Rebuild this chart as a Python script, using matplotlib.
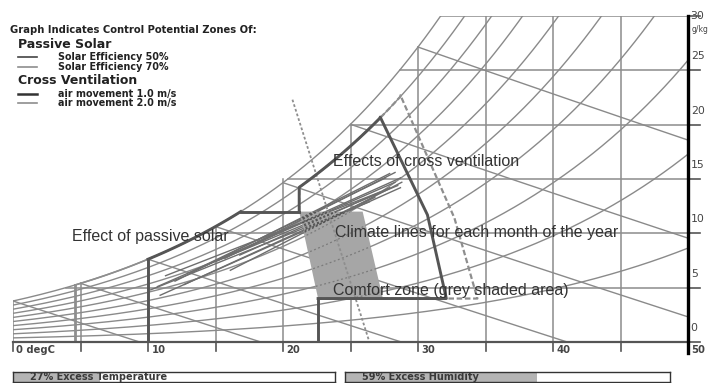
import numpy as np
import matplotlib
matplotlib.use("Agg")
import matplotlib.pyplot as plt
from matplotlib.patches import Polygon

# ---------------- chart data ----------------
temp_grid = [0, 5, 10, 15, 20, 25, 30, 35, 40, 45, 50]
temp_labels = {0: "0 degC", 10: "10", 20: "20", 30: "30", 40: "40", 50: "50"}
hum_grid = [0, 5, 10, 15, 20, 25, 30]
hum_labels = ["0", "5", "10", "15", "20", "25", "30"]
saturation_pct = [10, 20, 30, 40, 50, 60, 70, 80, 90, 100]
wet_bulb_temps = [0, 5, 10, 15, 20, 25, 30]

# comfort zone (temperature degC, humidity g/kg)
comfort_T = [21.2, 25.9, 27.4, 22.6]
comfort_W = [12.0, 12.0, 4.0, 4.0]

# passive solar zones: lower temperature limit
solar50_Tmin = 10.0
solar70_Tmin = 4.6

# cross ventilation zones: right-hand boundary points, upper edge follows 90% saturation
vent_pct = 0.9
vent1_T = [27.2, 30.7, 32.1]
vent1_W = [20.7, 11.7, 4.0]
vent2_T = [28.7, 32.7, 34.4]
vent2_W = [22.7, 11.4, 4.0]

# effective-temperature guide line
et_T = [20.7, 26.4]
et_W = [22.3, 0.0]

# monthly climate lines (min -> max)
months = ["Jan", "Feb", "Mar", "Apr", "May", "Jun", "Jul", "Aug", "Sep", "Oct", "Nov", "Dec"]
clim_T0 = [10.7, 10.9, 12.0, 13.1, 14.2, 15.0, 15.7, 16.1, 16.8, 11.3, 10.2, 12.7]
clim_W0 = [5.1, 4.3, 5.6, 6.4, 7.0, 7.4, 7.7, 6.6, 8.0, 6.1, 4.8, 5.3]
clim_T1 = [28.3, 28.7, 27.9, 27.6, 28.7, 28.5, 28.3, 28.8, 27.9, 27.2, 26.4, 26.8]
clim_W1 = [14.7, 14.2, 15.5, 15.1, 15.1, 14.4, 15.6, 14.7, 14.2, 13.8, 12.9, 13.3]

excess_temp = 27
excess_hum = 59

# ---------------- psychrometrics ----------------
def w_sat(T):
    T = np.asarray(T, dtype=float)
    p = 0.61094 * np.exp(17.625 * T / (T + 243.04))
    return 622.0 * p / (101.325 - p)

def w_wetbulb(T, twb):
    ws = w_sat(twb) / 1000.0
    w = ((2501 - 2.326 * twb) * ws - 1.006 * (T - twb)) / (2501 + 1.86 * T - 4.186 * twb)
    return w * 1000.0

T_fine = np.linspace(0, 50, 1001)
W_sat_fine = w_sat(T_fine)

def t_at_sat(w):
    return float(np.interp(w, W_sat_fine, T_fine))

def snap(v, step, tol):
    r = round(v / step) * step
    return r if abs(r - v) <= tol else v

# ---------------- figure ----------------
W_PX, H_PX = 718, 383
fig = plt.figure(figsize=(W_PX / 100, H_PX / 100), dpi=100)
fig.patch.set_facecolor("white")
ax = fig.add_axes([13 / W_PX, 41 / H_PX, 675 / W_PX, 326 / H_PX])
ax.set_xlim(0, 50)
ax.set_ylim(0, 30)
ax.axis("off")

grid_c = "#8c8c8c"
line_c = "#8a8a8a"

# grid: verticals up to saturation, horizontals from saturation
for t in temp_grid[:-1]:
    top = snap(min(float(w_sat(t)), 30), 5, 0.35)
    ax.plot([t, t], [0, top], color=grid_c, lw=1.1, zorder=1)
for w in hum_grid[1:]:
    left = snap(t_at_sat(w), 5, 0.35)
    ax.plot([left, 50], [w, w], color=grid_c, lw=1.1, zorder=1)

# percentage saturation curves
rh_lines = []
for p in saturation_pct:
    wv = p / 100.0 * W_sat_fine
    m = wv <= 30.5
    rh_lines.append((T_fine[m], wv[m]))
    ax.plot(T_fine[m], wv[m], color=line_c, lw=1.0, zorder=1)

# wet bulb lines
for twb in wet_bulb_temps:
    tt = np.linspace(twb, 50, 300)
    ww = w_wetbulb(tt, twb)
    m = (ww >= 0) & (ww <= 30)
    ax.plot(tt[m], ww[m], color=line_c, lw=1.0, zorder=1)

# climate lines
for i in range(len(months)):
    ax.plot([clim_T0[i], clim_T1[i]], [clim_W0[i], clim_W1[i]], color="#6e6e6e", lw=1.0, zorder=2)

# comfort zone
comfort_xy = np.column_stack([comfort_T, comfort_W])
comfort = Polygon(comfort_xy, closed=True, facecolor="#a6a6a6", edgecolor="none", zorder=3)
ax.add_patch(comfort)
# lines inside the comfort zone shown dotted
for tt, ww in rh_lines:
    ln, = ax.plot(tt, ww, color="#7a7a7a", lw=0.9, ls=(0, (1.5, 2)), zorder=4)
    ln.set_clip_path(comfort)
for i in range(len(months)):
    ln, = ax.plot([clim_T0[i], clim_T1[i]], [clim_W0[i], clim_W1[i]], color="#555555",
                  lw=1.0, ls=(0, (1.5, 1.5)), zorder=4)
    ln.set_clip_path(comfort)

dark = "#555555"
light = "#8e8e8e"

# passive solar 70%
t70 = np.linspace(solar70_Tmin, t_at_sat(comfort_W[0]), 100)
ax.plot([solar70_Tmin, solar70_Tmin], [0, float(w_sat(solar70_Tmin))], color=light, lw=2.0, zorder=5)
ax.plot(t70, w_sat(t70), color=light, lw=1.2, zorder=5)

# passive solar 50%
t50 = np.linspace(solar50_Tmin, t_at_sat(comfort_W[0]), 100)
ax.plot([solar50_Tmin, solar50_Tmin], [0, float(w_sat(solar50_Tmin))], color=dark, lw=2.1, zorder=6)
ax.plot(t50, w_sat(t50), color=dark, lw=2.1, zorder=6)
ax.plot([t_at_sat(comfort_W[0]), comfort_T[0]], [comfort_W[0], comfort_W[0]], color=dark, lw=2.1, zorder=6)
ax.plot([comfort_T[3], comfort_T[3]], [0, comfort_W[3]], color=dark, lw=2.1, zorder=6)

# cross ventilation 2.0 m/s
tv2 = np.linspace(comfort_T[0], vent2_T[0], 60)
xs2 = [comfort_T[0]] + list(tv2) + vent2_T + [comfort_T[3]]
ys2 = [comfort_W[0]] + list(vent_pct * w_sat(tv2)) + vent2_W + [comfort_W[3]]
ax.plot(xs2, ys2, color=light, lw=1.6, ls=(0, (2.5, 1.2)), zorder=5)

# cross ventilation 1.0 m/s
tv1 = np.linspace(comfort_T[0], vent1_T[0], 60)
xs1 = [comfort_T[0]] + list(tv1) + vent1_T + [comfort_T[3]]
ys1 = [comfort_W[0]] + list(vent_pct * w_sat(tv1)) + vent1_W + [comfort_W[3]]
ax.plot(xs1, ys1, color=dark, lw=2.1, zorder=6)

# effective temperature guide
ax.plot(et_T, et_W, color=light, lw=1.3, ls=(0, (1.5, 1.2)), zorder=5)

# axes: bottom baseline and right humidity scale
ax.plot([0, 50], [0, 0], color="#555555", lw=1.6, zorder=7, clip_on=False)
ax.plot([50, 50], [-1.0, 30], color="black", lw=2.4, zorder=8, clip_on=False)
for t in temp_grid:
    ax.plot([t, t], [0, -0.85], color="#555555", lw=1.2, zorder=7, clip_on=False)
    if t in temp_labels:
        ax.text(t + 0.25, -0.75, temp_labels[t], fontsize=7.2, fontweight="bold", color="#444444",
                ha="left", va="center", family="DejaVu Sans", clip_on=False)
for w, lab in zip(hum_grid, hum_labels):
    ax.plot([50, 50.9], [w, w], color="#555555", lw=1.2, zorder=7, clip_on=False)
    dy = 0.0 if w == 30 else 1.3
    ax.text(50.2, w + dy, lab, fontsize=7.8, color="#444444", ha="left", va="center",
            family="DejaVu Sans", clip_on=False)
ax.text(50.3, 28.8, "g/kg", fontsize=5.5, color="#444444", ha="left", va="center", clip_on=False)

# annotations
ann_kw = dict(fontsize=11.5, color="#333333", family="Liberation Sans", va="center", ha="left", zorder=9)
def px(x, y):
    return x / W_PX, 1 - y / H_PX
fig.text(*px(72, 236), "Effect of passive solar", **ann_kw)
fig.text(*px(333, 162), "Effects of cross ventilation", **ann_kw)
fig.text(*px(335, 232), "Climate lines for each month of the year", **ann_kw)
fig.text(*px(333, 290), "Comfort zone (grey shaded area)", **ann_kw)

# legend block
leg_kw = dict(family="DejaVu Sans", color="#222222", va="center", ha="left")
fig.text(*px(10, 30), "Graph Indicates Control Potential Zones Of:", fontsize=7.2, fontweight="bold", **leg_kw)
fig.text(*px(18, 44), "Passive Solar", fontsize=9.0, fontweight="bold", **leg_kw)
fig.text(*px(18, 80), "Cross Ventilation", fontsize=9.0, fontweight="bold", **leg_kw)
legend_items = [(57, "Solar Efficiency 50%", "#444444", 1.2), (67, "Solar Efficiency 70%", light, 1.2),
                (94, "air movement 1.0 m/s", "#333333", 1.8), (103, "air movement 2.0 m/s", light, 1.2)]
for y, lab, c, lw in legend_items:
    x0, yy = px(18, y)
    x1, _ = px(37, y)
    fig.add_artist(plt.Line2D([x0, x1], [yy, yy], color=c, lw=lw, transform=fig.transFigure))
    fig.text(*px(58, y), lab, fontsize=6.9, fontweight="bold", **leg_kw)

# excess bars
def bar(x0, x1, value, label):
    bax = fig.add_axes([x0 / W_PX, 1 - 382 / H_PX, (x1 - x0) / W_PX, 10 / H_PX])
    bax.set_xlim(0, 100)
    bax.set_ylim(0, 1)
    bax.barh(0.5, value, height=1.0, color="#b4b4b4", edgecolor="none")
    for s in bax.spines.values():
        s.set_color("#333333")
        s.set_linewidth(1.0)
    bax.set_xticks([])
    bax.set_yticks([])
    bax.text(5.3, 0.45, label, fontsize=7.0, fontweight="bold", color="#3a3a3a",
             va="center", ha="left", family="DejaVu Sans")

bar(13, 335, excess_temp, f"{excess_temp}% Excess Temperature")
bar(345, 670, excess_hum, f"{excess_hum}% Excess Humidity")

fig.savefig("out.png", dpi=100, facecolor="white")
